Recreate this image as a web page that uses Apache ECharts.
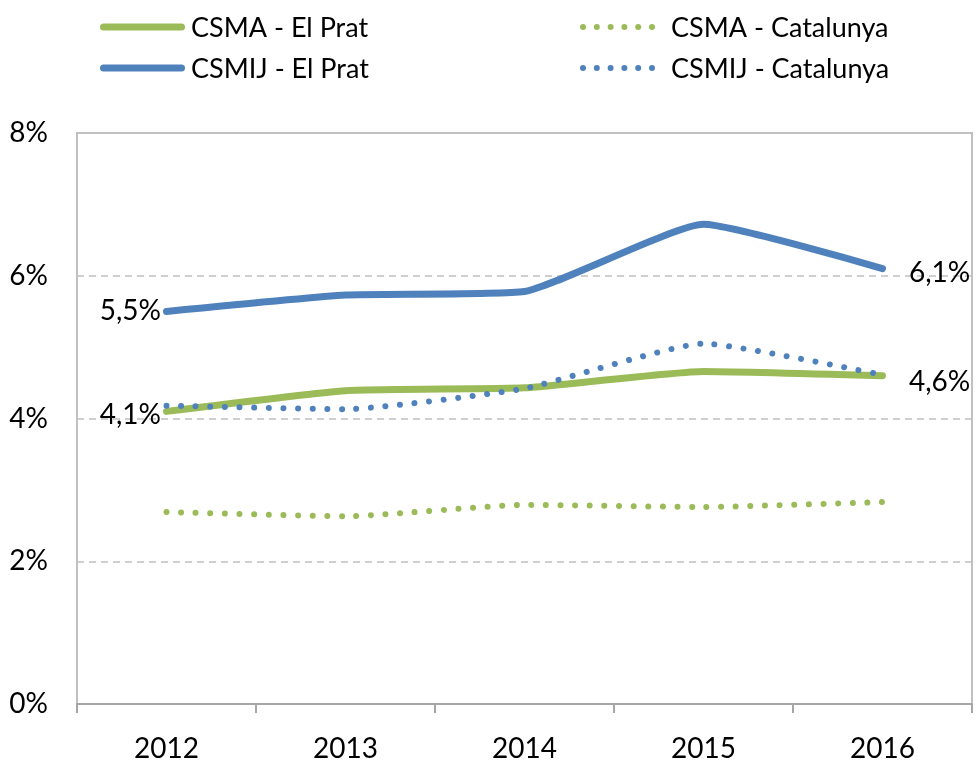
<!DOCTYPE html>
<html>
<head>
<meta charset="utf-8">
<script src="https://cdn.jsdelivr.net/npm/echarts@6/dist/echarts.min.js"></script>
<style>
  html, body { margin: 0; padding: 0; background: #fff; }
  #chart { width: 977px; height: 763px; }
</style>
</head>
<body>
<div id="chart"></div>
<script>
// Years on the category axis
const years = ['2012', '2013', '2014', '2015', '2016'];
// Rates in percent
const csmaElPrat = [4.1, 4.39, 4.43, 4.66, 4.6];
const csmijElPrat = [5.5, 5.73, 5.78, 6.72, 6.1];
const csmaCatalunya = [2.69, 2.63, 2.79, 2.76, 2.83];
const csmijCatalunya = [4.18, 4.13, 4.42, 5.05, 4.61];
const yTicks = [0, 2, 4, 6, 8];
// Legend entries, in two columns
const legendLeft = ['CSMA - El Prat', 'CSMIJ - El Prat'];
const legendRight = ['CSMA - Catalunya', 'CSMIJ - Catalunya'];

const GREEN = '#9BBB59';
const BLUE = '#4F81BD';
const FONT = 'Lato';
const FONT_SIZE = 28;

// Spanish-style decimal comma
const fmt = v => v.toFixed(1).replace('.', ',') + '%';

function solidSeries(name, data, color, leftOffset, rightOffset) {
  return {
    name: name,
    type: 'line',
    data: data.map((v, i) => {
      const p = { value: v };
      if (i === 0) {
        p.label = { show: true, position: 'left', distance: 5, offset: leftOffset };
      } else if (i === data.length - 1) {
        p.label = { show: true, position: 'right', distance: 26, offset: rightOffset };
      }
      return p;
    }),
    smooth: 0.15,
    symbol: 'circle',
    symbolSize: 1,
    showSymbol: true,
    lineStyle: { color: color, width: 7, cap: 'round', join: 'round' },
    itemStyle: { color: color },
    label: {
      show: false,
      color: '#000',
      fontFamily: FONT,
      fontSize: FONT_SIZE,
      formatter: p => fmt(p.value)
    },
    emphasis: { disabled: true },
    z: 3
  };
}

function dottedSeries(name, data, color) {
  return {
    name: name,
    type: 'line',
    data: data,
    smooth: 0.15,
    symbol: 'none',
    lineStyle: { color: color, width: 6, type: [0.01, 14.6], cap: 'round' },
    itemStyle: { color: color },
    emphasis: { disabled: true },
    z: 4
  };
}

// Legend drawn as graphic elements: a thick bar for solid series, six dots for dotted ones
const LEGEND_ROWS = [27, 68];
const legendColors = [GREEN, BLUE];
const legendGraphics = [];
legendLeft.forEach((name, r) => {
  const y = LEGEND_ROWS[r];
  legendGraphics.push({
    type: 'line',
    shape: { x1: 103.5, y1: y, x2: 181.5, y2: y },
    style: { stroke: legendColors[r], lineWidth: 7, lineCap: 'round' }
  });
  legendGraphics.push({
    type: 'text',
    x: 191, y: y + 1,
    style: { text: name, font: '27px ' + FONT, fill: '#000', align: 'left', verticalAlign: 'middle' }
  });
});
legendRight.forEach((name, r) => {
  const y = LEGEND_ROWS[r];
  for (let i = 0; i < 6; i++) {
    legendGraphics.push({
      type: 'circle',
      shape: { cx: 583 + i * 13.8, cy: y, r: 3 },
      style: { fill: legendColors[r] }
    });
  }
  legendGraphics.push({
    type: 'text',
    x: 671, y: y + 1,
    style: { text: name, font: '27px ' + FONT, fill: '#000', align: 'left', verticalAlign: 'middle' }
  });
});

const chart = echarts.init(document.getElementById('chart'), null, { renderer: 'canvas' });

chart.setOption({
  animation: false,
  backgroundColor: '#fff',
  graphic: legendGraphics,
  grid: {
    left: 77,
    right: 5,
    top: 133,
    bottom: 58,
    show: true,
    borderColor: '#C0C0C0',
    borderWidth: 2
  },
  xAxis: {
    type: 'category',
    data: years,
    boundaryGap: true,
    axisLine: { show: true, lineStyle: { color: '#A6A6A6', width: 2 } },
    axisTick: { show: true, length: 9, lineStyle: { color: '#A6A6A6', width: 2 } },
    axisLabel: { fontFamily: FONT, fontSize: FONT_SIZE, color: '#000', margin: 31 }
  },
  yAxis: {
    type: 'value',
    min: yTicks[0],
    max: yTicks[yTicks.length - 1],
    interval: 2,
    axisLine: { show: false },
    axisTick: { show: false },
    axisLabel: { fontFamily: FONT, fontSize: FONT_SIZE, color: '#000', margin: 29, formatter: '{value}%' },
    splitLine: { show: true, lineStyle: { color: '#C0C0C0', width: 1.5, type: [7, 5] } }
  },
  series: [
    solidSeries('CSMA - El Prat', csmaElPrat, GREEN, [0, 4], [0, 6]),
    dottedSeries('CSMA - Catalunya', csmaCatalunya, GREEN),
    solidSeries('CSMIJ - El Prat', csmijElPrat, BLUE, [0, 0], [0, 4]),
    dottedSeries('CSMIJ - Catalunya', csmijCatalunya, BLUE)
  ]
});
</script>
</body>
</html>
